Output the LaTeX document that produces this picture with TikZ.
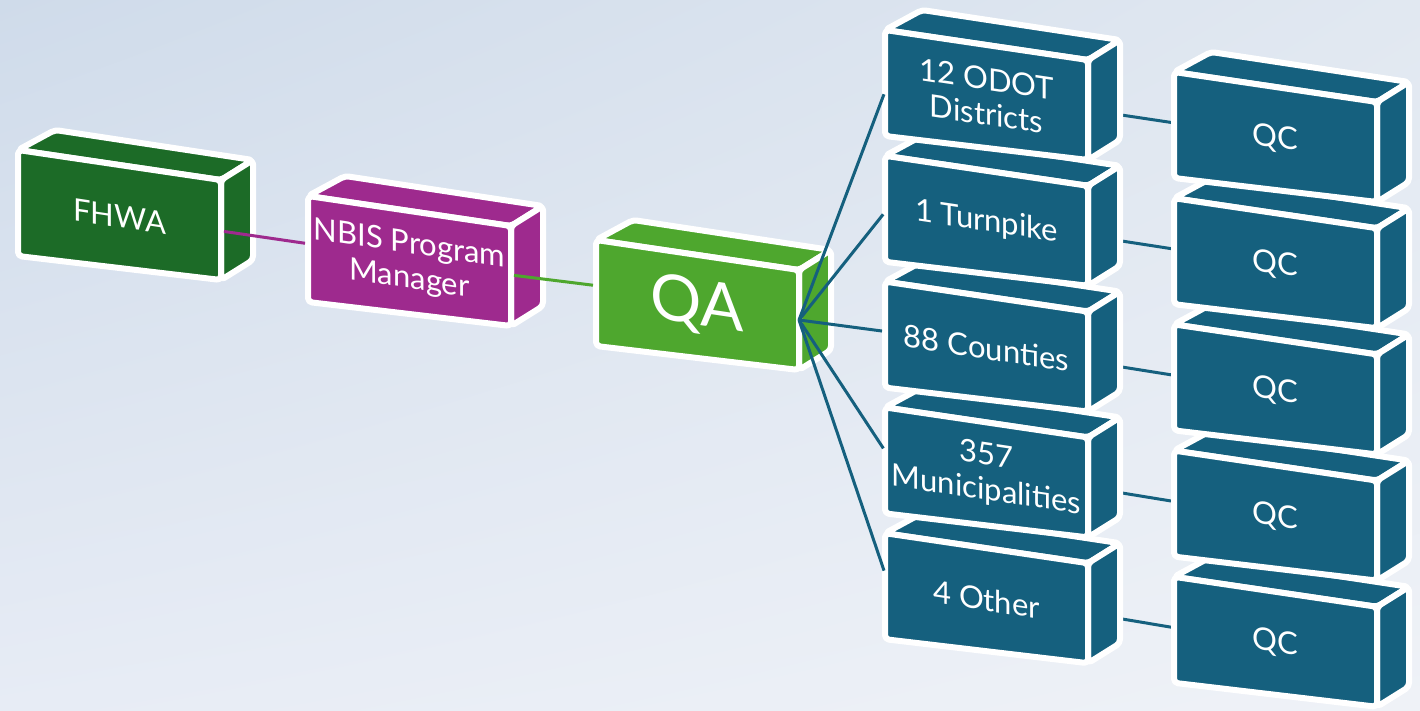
\documentclass[tikz,border=0pt]{standalone}
\usepackage{fontspec}
\setmainfont{Lato}
\usetikzlibrary{calc,shadings}
\definecolor{fhwagreen}{HTML}{1C6B27}
\definecolor{nbispurple}{HTML}{9E2A8E}
\definecolor{qagreen}{HTML}{4EA72E}
\definecolor{unitblue}{HTML}{15607E}
\definecolor{bgUL}{HTML}{CFDBEA}
\definecolor{bgUR}{HTML}{E1E8F1}
\definecolor{bgLL}{HTML}{E7ECF5}
\definecolor{bgLR}{HTML}{EFF2F7}
\pgfdeclarelayer{bg}
\pgfdeclarelayer{links}
\pgfsetlayers{bg,links,main}
\tikzset{
  face/.style={draw=white, line width=6pt, rounded corners=4pt, line join=round},
  boxtext/.style={text=white, align=center, yslant=-0.15, inner sep=0pt,
    font=\fontsize{31}{35}\selectfont},
  bigtext/.style={boxtext, font=\fontsize{64}{70}\selectfont},
  link/.style={line width=3pt, shorten <=3pt, shorten >=3pt},
  % a 3D block: top face, right side face and front face, with its label
  pics/cube/.style args={#1/#2/#3}{code={
    \coordinate (-tl) at (0,0);
    \coordinate (-tr) at (203,30);
    \coordinate (-br) at (203,130);
    \coordinate (-bl) at (0,106);
    \path[face, fill=#1] (0,0) -- (37,-20) -- (235,10) -- (203,30) -- cycle;
    \path[face, fill=#1] (203,30) -- (235,10) -- (235,110) -- (203,130) -- cycle;
    \path[face, fill=#1] (0,0) -- (203,30) -- (203,130) -- (0,106) -- cycle;
    \node[#2] (-text) at (101.5,66.5) {#3};
  }},
}
\begin{document}
\begin{tikzpicture}[x=1pt,y=-1pt]
\useasboundingbox (0,0) rectangle (1420,710);
\begin{pgfonlayer}{bg}
  \shade[upper left=bgUL, upper right=bgUR, lower left=bgLL, lower right=bgLR]
    (0,0) rectangle (1420,710);
\end{pgfonlayer}

% hierarchy chain
\pic (fhwa) at (18,150) {cube={fhwagreen/boxtext/FHWA}};
\pic (nbis) at (308,196) {cube={nbispurple/boxtext/NBIS Program\\Manager}};
\pic (qa) at (596,240) {cube={qagreen/bigtext/QA}};

% owner groups, drawn bottom-up so each block sits in front of the one below
\pic (other)    at (885,533.2) {cube={unitblue/boxtext/4 Other}};
\pic (munis)    at (885,407.4) {cube={unitblue/boxtext/357\\Municipalities}};
\pic (counties) at (885,281.6) {cube={unitblue/boxtext/88 Counties}};
\pic (turnpike) at (885,155.8) {cube={unitblue/boxtext/1 Turnpike}};
\pic (odot)     at (885,30)    {cube={unitblue/boxtext/12 ODOT\\Districts}};

% quality control blocks
\pic (qc5) at (1174,576.8) {cube={unitblue/boxtext/QC}};
\pic (qc4) at (1174,450.6) {cube={unitblue/boxtext/QC}};
\pic (qc3) at (1174,324.4) {cube={unitblue/boxtext/QC}};
\pic (qc2) at (1174,198.2) {cube={unitblue/boxtext/QC}};
\pic (qc1) at (1174,72)    {cube={unitblue/boxtext/QC}};

% connectors
\draw[link, nbispurple] ($(fhwa-tr)!0.51!(fhwa-br)$) -- ($(nbis-tl)!0.45!(nbis-bl)$);
\draw[link, qagreen] ($(nbis-tr)!0.49!(nbis-br)$) -- ($(qa-tl)!0.43!(qa-bl)$);
\coordinate (fan) at ($(qa-tr)!0.5!(qa-br)$);
\foreach \n/\f in {odot/0.58, turnpike/0.53, counties/0.47, munis/0.41, other/0.38}
  \draw[link, unitblue, shorten <=0pt] (fan) -- ($(\n-tl)!\f!(\n-bl)$);
\begin{pgfonlayer}{links}
  \foreach \n/\m in {odot/qc1, turnpike/qc2, counties/qc3, munis/qc4, other/qc5}
    \draw[link, unitblue] ($(\n-tr)!0.5!(\n-br)$) -- ($(\m-tl)!0.48!(\m-bl)$);
\end{pgfonlayer}
\end{tikzpicture}
\end{document}
